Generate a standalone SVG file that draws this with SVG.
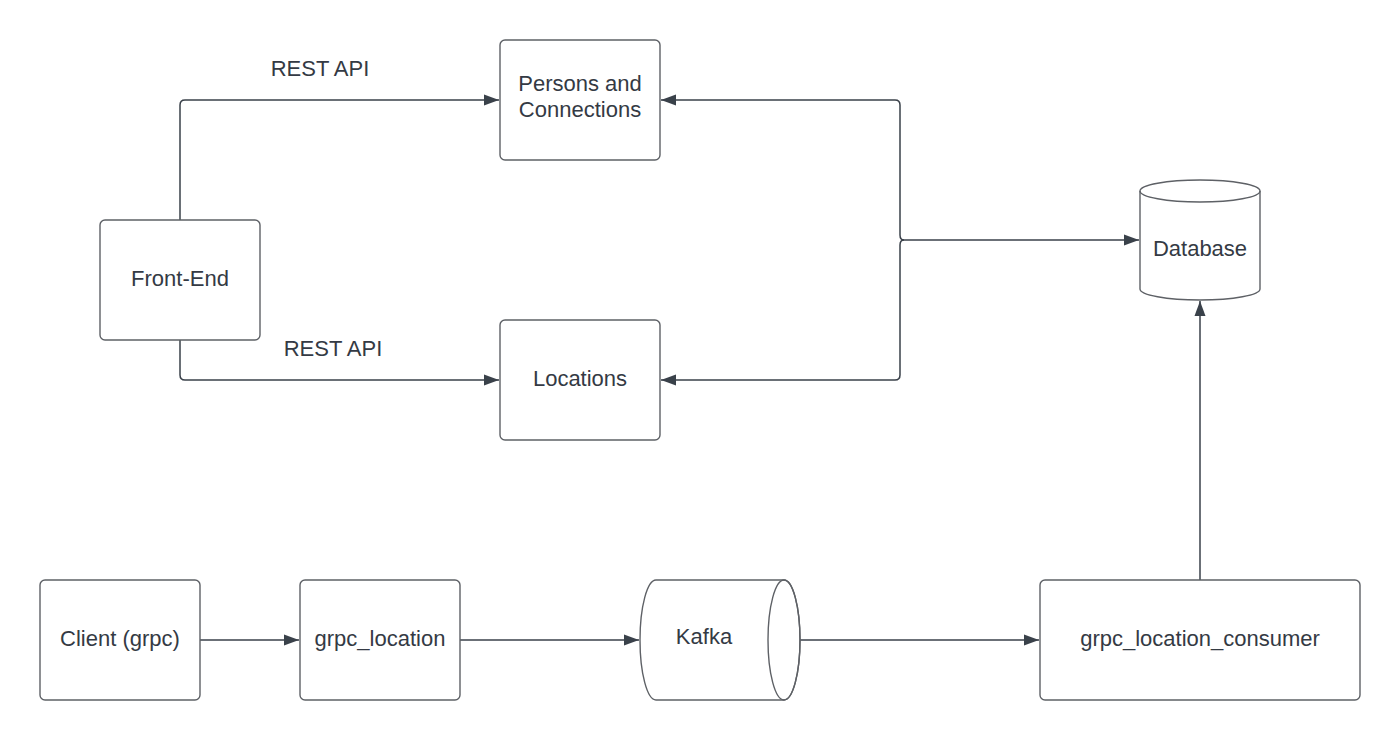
<svg xmlns="http://www.w3.org/2000/svg" width="1400" height="740" viewBox="0 0 1400 740">
<style>
.box{fill:#ffffff;stroke:#5e6166;stroke-width:1.4}
.lbl{font-family:"Liberation Sans",Arial,sans-serif;font-size:22px;fill:#343a44;text-anchor:middle}
.con{fill:none;stroke:#3a414a;stroke-width:1.5}
</style>
<defs>
<marker id="arr" markerUnits="userSpaceOnUse" markerWidth="16" markerHeight="12" refX="15" refY="6" orient="auto">
<path d="M0,0.5 L15,6 L0,11.5 Z" fill="#3a414a"/>
</marker>
</defs>
<rect width="1400" height="740" fill="#ffffff"/>
<g id="connectors">
<path class="con" d="M180,220 L180,105 Q180,100 185,100 L499,100" marker-end="url(#arr)"/>
<path class="con" d="M180,340 L180,375 Q180,380 185,380 L499,380" marker-end="url(#arr)"/>
<path class="con" d="M904,240 Q900,240 900,235 L900,105 Q900,100 895,100 L661,100" marker-end="url(#arr)"/>
<path class="con" d="M904,240 Q900,240 900,245 L900,375 Q900,380 895,380 L661,380" marker-end="url(#arr)"/>
<path class="con" d="M904,240 L1139,240" marker-end="url(#arr)"/>
<path class="con" d="M1200,580 L1200,301" marker-end="url(#arr)"/>
<path class="con" d="M200,640 L299,640" marker-end="url(#arr)"/>
<path class="con" d="M460,640 L639,640" marker-end="url(#arr)"/>
<path class="con" d="M800,640 L1039,640" marker-end="url(#arr)"/>
<text class="lbl" x="320" y="76">REST API</text>
<text class="lbl" x="333" y="356">REST API</text>
</g>
<g id="frontend">
<rect class="box" x="100" y="220" width="160" height="120" rx="5"/>
<text class="lbl" x="180" y="286">Front-End</text>
</g>
<g id="persons">
<rect class="box" x="500" y="40" width="160" height="120" rx="5"/>
<text class="lbl" x="580" y="91">Persons and</text>
<text class="lbl" x="580" y="117">Connections</text>
</g>
<g id="locations">
<rect class="box" x="500" y="320" width="160" height="120" rx="5"/>
<text class="lbl" x="580" y="386">Locations</text>
</g>
<g id="database">
<path class="box" d="M1140,191 A60,11 0 0 1 1260,191 L1260,289 A60,11 0 0 1 1140,289 Z"/>
<path class="box" style="fill:none" d="M1140,191 A60,11 0 0 0 1260,191"/>
<text class="lbl" x="1200" y="256">Database</text>
</g>
<g id="client">
<rect class="box" x="40" y="580" width="160" height="120" rx="5"/>
<text class="lbl" x="120" y="646">Client (grpc)</text>
</g>
<g id="grpc_location">
<rect class="box" x="300" y="580" width="160" height="120" rx="5"/>
<text class="lbl" x="380" y="646">grpc_location</text>
</g>
<g id="kafka">
<path class="box" d="M656,580 L784,580 A16,60 0 0 1 784,700 L656,700 A16,60 0 0 1 656,580 Z"/>
<ellipse class="box" style="fill:none" cx="784" cy="640" rx="16" ry="60"/>
<text class="lbl" x="704" y="644">Kafka</text>
</g>
<g id="consumer">
<rect class="box" x="1040" y="580" width="320" height="120" rx="5"/>
<text class="lbl" x="1200" y="646">grpc_location_consumer</text>
</g>
</svg>
